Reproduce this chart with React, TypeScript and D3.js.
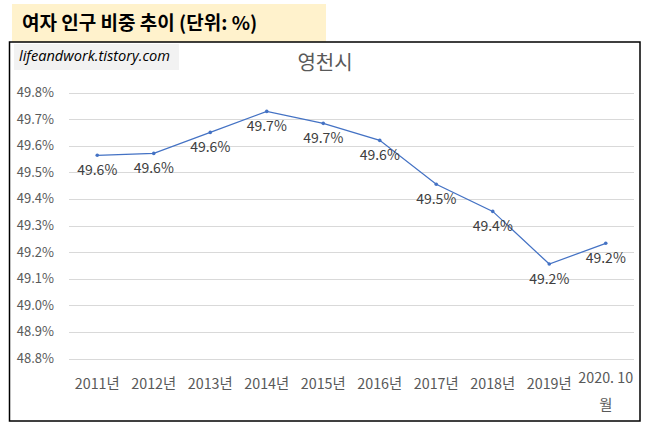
import React, { useEffect, useRef } from "react";
import * as d3 from "d3";

const categories = ["2011년", "2012년", "2013년", "2014년", "2015년", "2016년", "2017년", "2018년", "2019년", "2020. 10\n월"];
const femaleShare = [49.564, 49.571, 49.65, 49.729, 49.684, 49.62, 49.455, 49.353, 49.155, 49.233];
const yTicks = [48.8, 48.9, 49.0, 49.1, 49.2, 49.3, 49.4, 49.5, 49.6, 49.7, 49.8];

const W = 646;
const H = 430;
const FONT = "'Noto Sans CJK KR', 'Noto Sans', sans-serif";

const App: React.FC = () => {
  const svgRef = useRef<SVGSVGElement>(null);

  useEffect(() => {
    if (!svgRef.current) return;
    const svg = d3.select(svgRef.current);
    svg.selectAll("*").remove();

    // Title banner
    svg.append("rect").attr("x", 12).attr("y", 4).attr("width", 314).attr("height", 38).attr("fill", "#FFF2CC");
    svg.append("text")
      .attr("x", 22).attr("y", 30)
      .attr("font-family", FONT).attr("font-size", 19).attr("font-weight", "bold")
      .attr("fill", "#000")
      .text("여자 인구 비중 추이 (단위: %)");

    // Chart frame
    svg.append("rect").attr("x", 9.5).attr("y", 42).attr("width", 630.5).attr("height", 379)
      .attr("fill", "#fff").attr("stroke", "#000").attr("stroke-width", 1.5);

    // Watermark
    svg.append("rect").attr("x", 14).attr("y", 44).attr("width", 165).attr("height", 26).attr("fill", "#F2F2F2");
    svg.append("text")
      .attr("x", 19).attr("y", 61)
      .attr("font-family", "'Open Sans', sans-serif").attr("font-size", 14.6).attr("font-style", "italic")
      .attr("fill", "#000")
      .text("lifeandwork.tistory.com");

    // Chart title
    svg.append("text")
      .attr("x", 325).attr("y", 70)
      .attr("text-anchor", "middle")
      .attr("font-family", FONT).attr("font-size", 20)
      .attr("fill", "#595959")
      .text("영천시");

    const x = d3.scaleBand<string>().domain(categories).range([69, 634]);
    const y = d3.scaleLinear().domain([48.8, 49.8]).range([358.5, 92.5]);
    const cx = (i: number) => (x(categories[i]) as number) + x.bandwidth() / 2;

    // Gridlines + y labels
    const grid = svg.append("g");
    yTicks.forEach((t) => {
      grid.append("line")
        .attr("x1", 69).attr("x2", 634)
        .attr("y1", Math.round(y(t)) + 0.5).attr("y2", Math.round(y(t)) + 0.5)
        .attr("stroke", "#D9D9D9").attr("stroke-width", 1);
      grid.append("text")
        .attr("x", 54).attr("y", y(t)).attr("dy", "0.35em")
        .attr("text-anchor", "end")
        .attr("font-family", FONT).attr("font-size", 13)
        .attr("fill", "#595959")
        .text(`${t.toFixed(1)}%`);
    });

    // X labels
    categories.forEach((c, i) => {
      const lines = c.split("\n");
      const t = svg.append("text")
        .attr("text-anchor", "middle")
        .attr("font-family", FONT).attr("font-size", 14.3)
        .attr("fill", "#595959");
      lines.forEach((ln, j) => {
        t.append("tspan")
          .attr("x", cx(i))
          .attr("y", (lines.length > 1 ? 383 : 389) + j * 27)
          .text(ln);
      });
    });

    // Line
    const line = d3.line<number>()
      .x((_, i) => cx(i))
      .y((d) => y(d));
    svg.append("path")
      .datum(femaleShare)
      .attr("fill", "none")
      .attr("stroke", "#4472C4")
      .attr("stroke-width", 1.25)
      .attr("d", line);

    svg.selectAll(".dot")
      .data(femaleShare)
      .enter().append("circle")
      .attr("class", "dot")
      .attr("cx", (_, i) => cx(i))
      .attr("cy", (d) => y(d))
      .attr("r", 1.8)
      .attr("fill", "#4472C4");

    // Data labels (below)
    svg.selectAll(".lbl")
      .data(femaleShare)
      .enter().append("text")
      .attr("class", "lbl")
      .attr("x", (_, i) => cx(i))
      .attr("y", (d) => y(d) + 15)
      .attr("dy", "0.35em")
      .attr("text-anchor", "middle")
      .attr("font-family", FONT).attr("font-size", 14)
      .attr("fill", "#404040")
      .text((d) => `${d.toFixed(1)}%`);
  }, []);

  return (
    <svg
      ref={svgRef}
      width={W}
      height={H}
      style={{ position: "absolute", left: 0, top: 0, background: "#fff" }}
    />
  );
};

export default App;
